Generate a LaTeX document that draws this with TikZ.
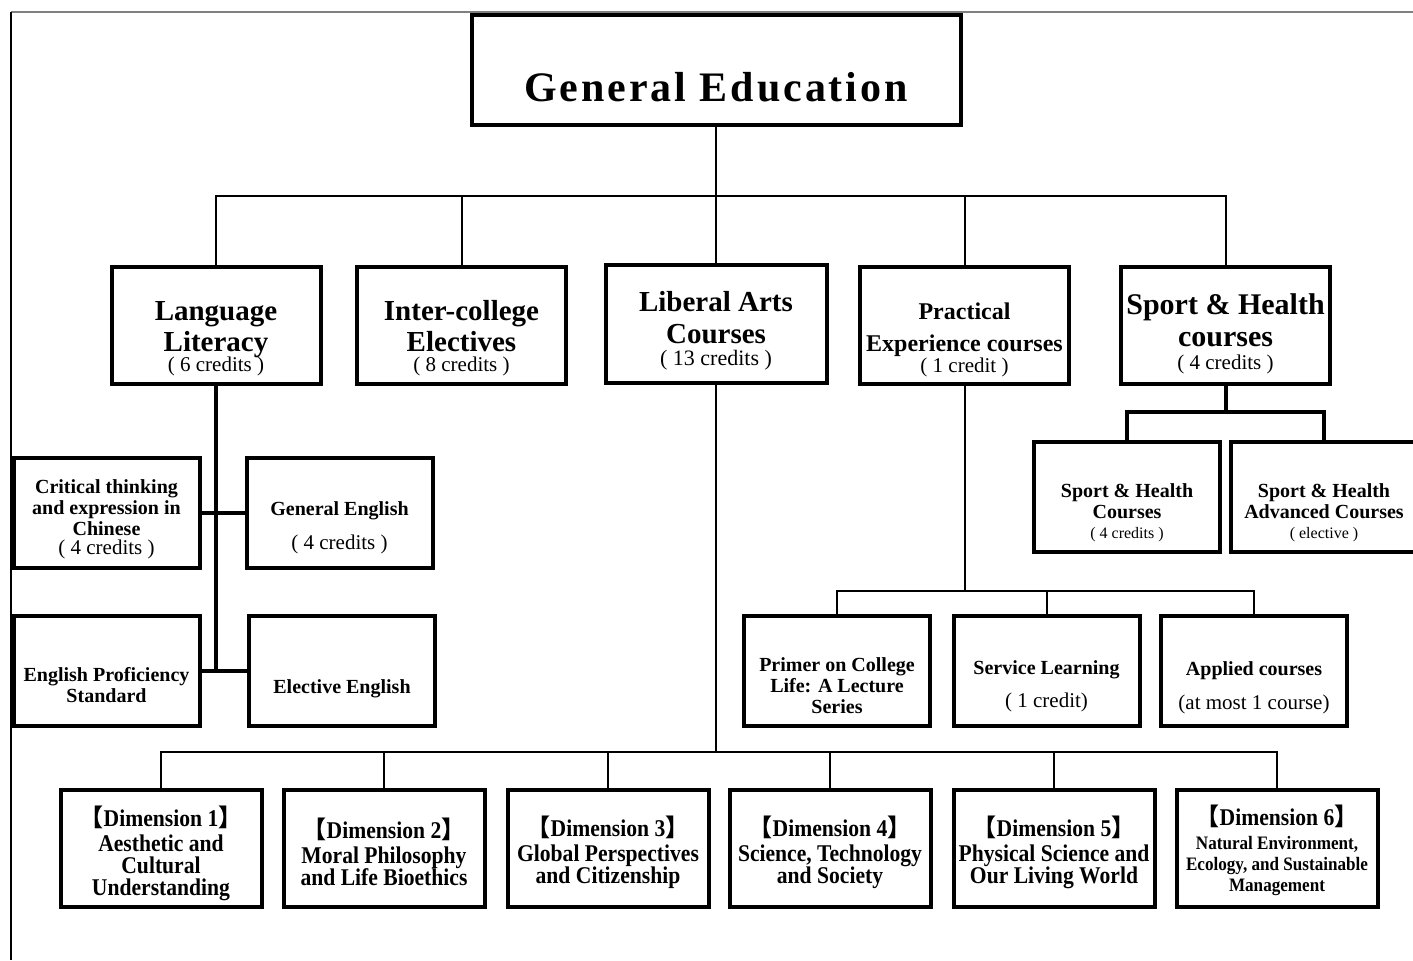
\documentclass[tikz,border=0pt]{standalone}
\usepackage{fontspec}
\setmainfont{Liberation Serif}
\newfontfamily\cjk{Noto Sans CJK SC}
\newfontfamily\gefont[LetterSpace=7]{Liberation Serif}
\newfontfamily\dimfont[FakeStretch=0.9]{Liberation Serif}
\newcommand{\cred}[2][10.5]{{\normalfont\fontsize{#1}{#1}\selectfont #2}}
\newcommand{\dimhead}[1]{{\fontsize{12}{12}\selectfont{\cjk\bfseries 【}Dimension #1{\cjk\bfseries 】}}}
\tikzset{
  wh/.style 2 args={minimum width=#1*0.5pt, minimum height=#2*0.5pt},
  cbox/.style={draw, line width=2pt, align=center, inner sep=0pt, font=\bfseries},
  topbox/.style={cbox, wh={209}{117}},
  subbox/.style={cbox, wh={186}{110}, font=\fontsize{10}{10.5}\selectfont\bfseries},
  dbox/.style={cbox, wh={201}{117}, font={\dimfont\bfseries\fontsize{12}{11}\selectfont\lineskiplimit=-5pt}},
  conn/.style={line width=1pt},
  tconn/.style={line width=2pt},
}
\begin{document}
\begin{tikzpicture}[x=0.5pt,y=-0.5pt]
\useasboundingbox (0,0) rectangle (1413,960);
% marco
\draw[gray, line width=1.4pt] (11,12) -- (1413,12);
\draw[line width=0.8pt] (11,12) -- (11,960);

\node[cbox, wh={489}{110}, font=\gefont\bfseries\fontsize{21}{24}\selectfont] (ge) at (716,70) {\\[7.5pt]General Education};

\node[topbox, font=\fontsize{14.5}{15.5}\selectfont\bfseries] (ll) at (216,325.5) {\\[7pt]Language\\Literacy\\[-5.5pt]\cred{( 6 credits )}};
\node[topbox, font=\fontsize{14.5}{15.5}\selectfont\bfseries] (ie) at (461.5,325.5) {\\[7pt]Inter-college\\Electives\\[-5.5pt]\cred{( 8 credits )}};
\node[topbox, wh={221}{118}, font=\fontsize{14.5}{16}\selectfont\bfseries] (la) at (716,324) {\\[1pt]Liberal Arts\\Courses\\[-5pt]\cred[11]{( 13 credits )}};
\node[topbox, font=\fontsize{12}{16}\selectfont\bfseries] (pe) at (964.5,325.5) {\\[7pt]Practical\\Experience courses\\[-5.5pt]\cred{( 1 credit )}};
\node[topbox, font=\fontsize{15}{16}\selectfont\bfseries] (sh) at (1225.5,325.5) {\\[2.5pt]Sport \& Health\\courses\\[-4.5pt]\cred{( 4 credits )}};

\node[subbox] (ct) at (106.5,513) {\\[2.5pt]Critical thinking\\and expression in\\Chinese\\[-1pt]\cred{( 4 credits )}};
\node[subbox] (gen) at (339.5,513) {\\[11pt]General English\\[6.5pt]\cred{( 4 credits )}};
\node[subbox] (eps) at (106.5,671) {\\[11pt]English Proficiency\\Standard};
\node[subbox] (ele) at (342,671) {\\[14.5pt]Elective English};

\node[subbox] (shc) at (1127,496.5) {\\[12.5pt]Sport \& Health\\Courses\\[-0.5pt]\cred[8]{( 4 credits )}};
\node[subbox] (sha) at (1324,496.5) {\\[12.5pt]Sport \& Health\\Advanced Courses\\[-0.5pt]\cred[8]{( elective )}};

\node[subbox] (pri) at (837,671) {\\[11pt]Primer on College\\Life: A Lecture\\Series};
\node[subbox] (ser) at (1046.5,670.5) {\\[12pt]Service Learning\\[6pt]\cred{( 1 credit)}};
\node[subbox] (app) at (1254,671) {\\[13.5pt]Applied courses\\[6.5pt]\cred{(at most 1 course)}};

\node[dbox] (d1) at (161,848.5) {\\[4pt]\dimhead{1}\\[1.5pt]Aesthetic and\\Cultural\\Understanding};
\node[dbox] (d2) at (384,848.5) {\\[3pt]\dimhead{2}\\[1.5pt]Moral Philosophy\\and Life Bioethics};
\node[dbox] (d3) at (608,848.5) {\\[3pt]\dimhead{3}\\[1.5pt]Global Perspectives\\and Citizenship};
\node[dbox] (d4) at (830,848.5) {\\[3pt]\dimhead{4}\\[1.5pt]Science, Technology\\and Society};
\node[dbox] (d5) at (1054,848.5) {\\[3pt]\dimhead{5}\\[1.5pt]Physical Science and\\Our Living World};
\node[dbox, font={\dimfont\bfseries\fontsize{9.5}{10.5}\selectfont\lineskiplimit=-5pt}] (d6) at (1277,848.5) {\\[2pt]\dimhead{6}\\[1.5pt]Natural Environment,\\Ecology, and Sustainable\\Management};

\coordinate (top) at (716,196);
\coordinate (llend) at (216,672);
\coordinate (lafork) at (716,752);
\coordinate (pefork) at (964.5,591);
\coordinate (shfork) at (1225.5,412);

\draw[conn] (ge.south) -- (top);
\draw[conn] (ll.north) |- (top) -| (sh.north);
\foreach \n in {ie,la,pe}
  \draw[conn] (\n.north) -- (\n.north |- top);
% Language Literacy
\draw[tconn] (ll.south) -- (llend);
\draw[tconn] (ct) -- (gen);
\draw[tconn] (eps) -- (ele);
% Liberal Arts
\draw[conn] (la.south) -- (lafork);
\draw[conn] (d1.north) |- (lafork) -| (d6.north);
\foreach \i in {2,...,5}
  \draw[conn] (d\i.north) -- (d\i.north |- lafork);
% Practical Experience
\draw[conn] (pe.south) -- (pefork);
\draw[conn] (pri.north) |- (pefork) -| (app.north);
\draw[conn] (ser.north) -- (ser.north |- pefork);
% Sport & Health
\draw[tconn] (sh.south) -- (shfork);
\draw[tconn] (shc.north) |- (shfork) -| (sha.north);
\end{tikzpicture}
\end{document}
